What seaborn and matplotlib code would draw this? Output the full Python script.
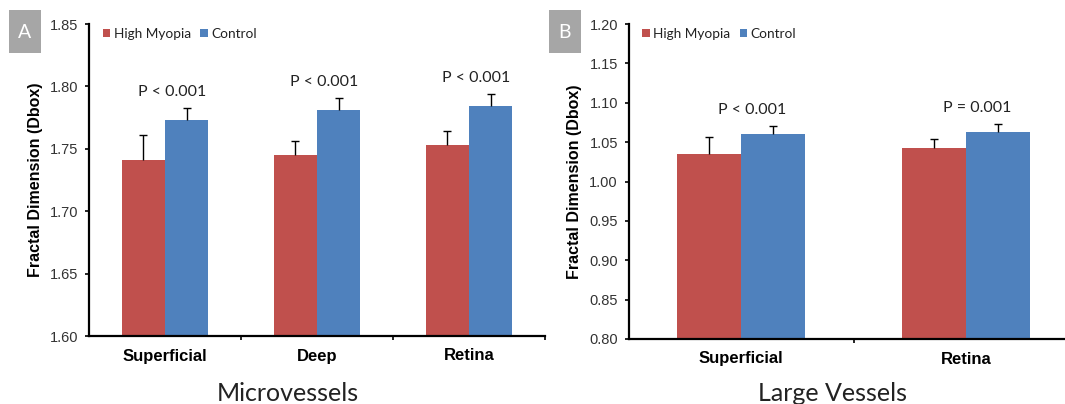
import numpy as np
import pandas as pd
import matplotlib
matplotlib.use("Agg")
import matplotlib.pyplot as plt
from matplotlib.patches import Rectangle
from matplotlib.ticker import FixedLocator, MultipleLocator
import seaborn as sns

# Panel A : microvessels
regions_a = ["Superficial", "Deep", "Retina"]
hm_a = [1.741, 1.745, 1.753]
hm_a_err = [0.020, 0.011, 0.011]
ctrl_a = [1.773, 1.781, 1.784]
ctrl_a_err = [0.010, 0.010, 0.010]
p_a = ["P < 0.001", "P < 0.001", "P < 0.001"]

# Panel B : large vessels
regions_b = ["Superficial", "Retina"]
hm_b = [1.035, 1.043]
hm_b_err = [0.021, 0.011]
ctrl_b = [1.060, 1.063]
ctrl_b_err = [0.011, 0.010]
p_b = ["P < 0.001", "P = 0.001"]

groups = ["High Myopia", "Control"]
colors = {"High Myopia": "#C0504D", "Control": "#4F81BD"}

sns.set_theme(style="white")
plt.rcParams["font.family"] = ["Liberation Sans", "DejaVu Sans"]

fig = plt.figure(figsize=(10.65, 4.04), dpi=100)
W, H = 1065, 404
ax_a = fig.add_axes([89 / W, 1 - 336 / H, 456 / W, 312 / H])
ax_b = fig.add_axes([629 / W, 1 - 339 / H, 436 / W, 315 / H])


def panel(ax, regions, hm, hm_err, ctrl, ctrl_err, pvals, ylim, step, xmax, lab_x):
    df = pd.DataFrame({
        "region": regions * 2,
        "group": [groups[0]] * len(regions) + [groups[1]] * len(regions),
        "value": hm + ctrl,
    })
    sns.barplot(data=df, x="region", y="value", hue="group", hue_order=groups,
                palette=colors, width=0.57, gap=0, errorbar=None, saturation=1,
                linewidth=0, ax=ax)

    # upward-only error bars, like the original Excel chart
    for cont, err in zip(ax.containers, [hm_err, ctrl_err]):
        xs = [p.get_x() + p.get_width() / 2 for p in cont.patches]
        ys = [p.get_height() for p in cont.patches]
        eb = ax.errorbar(xs, ys, yerr=[np.zeros(len(err)), err], fmt="none",
                         ecolor="black", elinewidth=1, capsize=2.6, capthick=1)
        eb[1][0].set_visible(False)

    ax.set_ylim(*ylim)
    ax.set_xlim(-0.5, xmax)
    ax.yaxis.set_major_locator(MultipleLocator(step))
    ax.yaxis.set_major_formatter(plt.FormatStrFormatter("%.2f"))

    # p-value labels above the control bars
    yr = ylim[1] - ylim[0]
    for i, (c, e, p) in enumerate(zip(ctrl, ctrl_err, pvals)):
        ax.text(i + 0.05, c + e + 0.051 * yr, p, ha="center", va="center",
                fontsize=11.5, family=["Lato", "DejaVu Sans"], color="#222222")

    sns.despine(ax=ax)
    for s in ["left", "bottom"]:
        ax.spines[s].set_color("black")
        ax.spines[s].set_linewidth(1.6)
    ax.tick_params(axis="y", left=True, direction="out", length=3, width=1.2,
                   pad=5, labelsize=10.5, colors="black")
    ax.tick_params(axis="x", which="major", length=0, pad=9)
    ax.xaxis.set_minor_locator(FixedLocator(np.arange(0.5, len(regions) + 0.5, 1.0)))
    ax.tick_params(axis="x", which="minor", bottom=True, direction="out",
                   length=3, width=1.2, color="black")
    for t in ax.get_xticklabels():
        t.set_fontweight("bold")
        t.set_fontsize(12)
        t.set_color("black")
    for t in ax.get_yticklabels():
        t.set_color("#333333")

    ax.set_xlabel("")
    ax.set_ylabel("Fractal Dimension (Dbox)", fontsize=11.5, fontweight="bold", color="black")
    ax.yaxis.label.set_va("center")
    ax.yaxis.set_label_coords(lab_x, 0.5)

    ax.legend(loc="center left", bbox_to_anchor=(0.03, 0.968), ncol=2, frameon=False,
              borderpad=0, borderaxespad=0, handlelength=0.55, handleheight=0.55,
              handletextpad=0.25, columnspacing=0.7, labelcolor="#222222",
              prop={"family": ["Lato", "DejaVu Sans"], "size": 9.8})

    ax.set_facecolor("white")
    return ax


panel(ax_a, regions_a, hm_a, hm_a_err, ctrl_a, ctrl_a_err, p_a,
      (1.60, 1.85), 0.05, 2.5, -0.118)
panel(ax_b, regions_b, hm_b, hm_b_err, ctrl_b, ctrl_b_err, p_b,
      (0.80, 1.20), 0.05, -0.5 + 436 / 224.5, -0.126)

# panel letters in grey boxes
for letter, x0 in [("A", 9), ("B", 549)]:
    fig.add_artist(Rectangle((x0 / W, 1 - 53 / H), 32 / W, 43 / H,
                             transform=fig.transFigure, color="#A6A6A6", lw=0))
    fig.text((x0 + 16) / W, 1 - 32 / H, letter, ha="center", va="center",
             color="white", fontsize=14, family=["Lato", "DejaVu Sans"])

# section captions under each panel
fig.text(288 / W, 1 - 401 / H, "Microvessels", ha="center", va="baseline",
         fontsize=18, family=["Lato", "DejaVu Sans"], color="#222222")
fig.text(833 / W, 1 - 401 / H, "Large Vessels", ha="center", va="baseline",
         fontsize=18, family=["Lato", "DejaVu Sans"], color="#222222")

fig.savefig("out.png", dpi=100, facecolor="white")
